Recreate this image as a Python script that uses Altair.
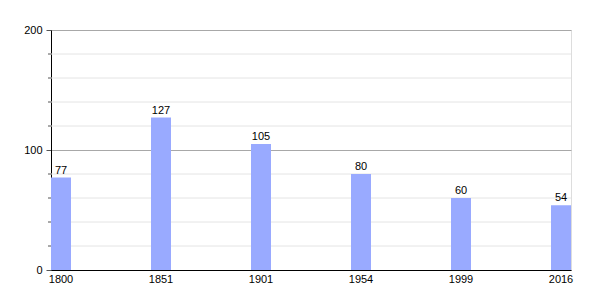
import altair as alt
import pandas as pd

years = ["1800", "1851", "1901", "1954", "1999", "2016"]
values = [77, 127, 105, 80, 60, 54]
major_ticks = [0, 100, 200]
minor_ticks = [20, 40, 60, 80, 120, 140, 160, 180]

df = pd.DataFrame({"year": years, "value": values})
minor = pd.DataFrame({"v": minor_ticks})

FONT = "Liberation Sans"

x_enc = alt.X(
    "year:N",
    sort=years,
    scale=alt.Scale(paddingInner=0.8, paddingOuter=0, align=0),
    axis=alt.Axis(
        title=None, labelAngle=0, ticks=False, domainColor="black",
        labelFontSize=11, labelColor="black", labelPadding=3, labelFont=FONT,
    ),
)
y_scale = alt.Scale(domain=[0, 200], nice=False)

bars = alt.Chart(df).mark_bar(color="#99aaff").encode(
    x=x_enc,
    y=alt.Y(
        "value:Q",
        scale=y_scale,
        axis=alt.Axis(
            title=None, values=major_ticks, grid=True, gridColor="#a8a8a8",
            domainColor="black", tickColor="#555555", tickSize=5,
            labelFontSize=11, labelColor="black", labelPadding=4, labelFont=FONT,
        ),
    ),
)

labels = alt.Chart(df).mark_text(
    dy=-7, fontSize=11, color="black", font=FONT
).encode(
    x=alt.X("year:N", sort=years),
    y=alt.Y("value:Q", scale=y_scale),
    text="value:Q",
)

minor_grid = alt.Chart(minor).mark_rule(color="#e4e4e4", strokeWidth=1).encode(
    y=alt.Y("v:Q", scale=y_scale),
    x=alt.value(0),
    x2=alt.value(520),
)

minor_tick_marks = alt.Chart(minor).mark_rule(color="#555555", strokeWidth=1).encode(
    y=alt.Y("v:Q", scale=y_scale),
    x=alt.value(-3),
    x2=alt.value(0),
)

chart = alt.layer(minor_grid, bars, labels, minor_tick_marks).properties(
    width=520,
    height=240,
    autosize=alt.AutoSizeParams(type="none"),
    padding={"left": 51, "top": 30, "right": 29, "bottom": 30},
).configure_view(stroke=None).configure(font=FONT)

chart.save("out.html", embed_options={"renderer": "svg", "actions": False})
